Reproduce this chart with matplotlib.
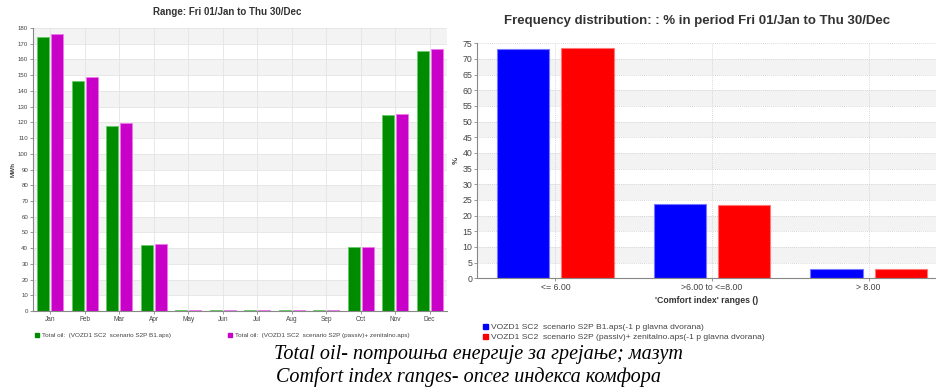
import matplotlib
matplotlib.use("Agg")
import matplotlib.pyplot as plt
from matplotlib.lines import Line2D
import numpy as np

months = ['Jan', 'Feb', 'Mar', 'Apr', 'May', 'Jun', 'Jul', 'Aug', 'Sep', 'Oct', 'Nov', 'Dec']
oil_b1 = [174.0, 146.6, 117.6, 41.7, 0.4, 0.4, 0.4, 0.4, 0.4, 40.4, 124.6, 165.5]
oil_passiv = [176.0, 148.7, 119.5, 42.9, 0.4, 0.4, 0.4, 0.4, 0.4, 41.0, 125.5, 166.8]
oil_labels = ['Total oil:  (VOZD1 SC2  scenario S2P B1.aps)',
              'Total oil:  (VOZD1 SC2  scenario S2P (passiv)+ zenitalno.aps)']

ranges = ['<= 6.00', '>6.00 to <=8.00', '> 8.00']
freq_b1 = [73.2, 23.7, 3.1]
freq_passiv = [73.6, 23.4, 3.0]
freq_labels = ['VOZD1 SC2  scenario S2P B1.aps(-1 p glavna dvorana)',
               'VOZD1 SC2  scenario S2P (passiv)+ zenitalno.aps(-1 p glavna dvorana)']

plt.rcParams['font.family'] = ['Liberation Sans', 'DejaVu Sans']
TXT = '#444444'
W, H = 936, 392
fig = plt.figure(figsize=(W / 100, H / 100), dpi=100)


def px_axes(l, t, r, b):
    return fig.add_axes([l / W, 1 - b / H, (r - l) / W, (b - t) / H])


def style(ax, fs):
    for s in ['top', 'right']:
        ax.spines[s].set_visible(False)
    for s in ['left', 'bottom']:
        ax.spines[s].set_color('#888888')
        ax.spines[s].set_linewidth(0.8)
    ax.tick_params(colors='#888888', labelcolor=TXT, labelsize=fs, length=2, width=0.6, pad=1.5)


# ---------- left chart ----------
axL = px_axes(33, 28, 447, 311)
x = np.arange(len(months))
for lo in range(10, 180, 20):
    axL.axhspan(lo, lo + 10, color='#f3f3f3', zorder=0, lw=0)
for yv in range(10, 181, 10):
    axL.axhline(yv, color='#e4e4e4', lw=0.6, zorder=0.5)
for xv in x:
    axL.axvline(xv, color='#e4e4e4', lw=0.6, zorder=0.5)
axL.bar(x - 0.2, oil_b1, width=0.35, color='#008c00', edgecolor='#66cc66', lw=0.6, zorder=2)
axL.bar(x + 0.2, oil_passiv, width=0.35, color='#c800c8', edgecolor='#ee77ee', lw=0.6, zorder=2)
axL.set_xlim(-0.5, 11.5)
axL.set_ylim(0, 180)
axL.set_yticks(range(0, 181, 10))
axL.set_xticks(x)
axL.set_xticklabels(months)
style(axL, 4.4)
axL.tick_params(axis='x', labelsize=4.7)
axL.set_ylabel('MWh', fontsize=4.6, fontweight='bold', color=TXT, labelpad=1.5)
fig.text(227 / W, 1 - 12 / H, 'Range: Fri 01/Jan to Thu 30/Dec', ha='center', va='center',
         fontsize=7.0, fontweight='bold', color='#333333')

h1 = Line2D([], [], marker='s', color='#008c00', ls='none', markersize=2.8)
h2 = Line2D([], [], marker='s', color='#c800c8', ls='none', markersize=2.8)
leg1 = fig.legend([h1], [oil_labels[0]], loc='center left', bbox_to_anchor=(31 / W, 1 - 335 / H),
                  frameon=False, fontsize=4.6, handlelength=0.8, handletextpad=0.4, borderpad=0)
leg2 = fig.legend([h2], [oil_labels[1]], loc='center left', bbox_to_anchor=(224 / W, 1 - 335 / H),
                  frameon=False, fontsize=4.6, handlelength=0.8, handletextpad=0.4, borderpad=0)
for lg in (leg1, leg2):
    for t in lg.get_texts():
        t.set_color(TXT)

# ---------- right chart ----------
axR = px_axes(477, 43.3, 936, 278.3)
xr = np.arange(len(ranges))
for lo in range(5, 75, 10):
    axR.axhspan(lo, lo + 5, color='#f3f3f3', zorder=0, lw=0)
for yv in range(5, 76, 5):
    axR.axhline(yv, color='#cccccc', lw=0.6, ls=(0, (1, 1.5)), zorder=0.5)
for xv in xr:
    axR.axvline(xv, color='#cccccc', lw=0.6, ls=(0, (1, 1.5)), zorder=0.5)
axR.bar(xr - 0.205, freq_b1, width=0.333, color='#0000ff', edgecolor='#7777ff', lw=0.8, zorder=2)
axR.bar(xr + 0.205, freq_passiv, width=0.333, color='#ff0000', edgecolor='#ff7777', lw=0.8, zorder=2)
axR.set_xlim(-0.5, 2.43)
axR.set_ylim(0, 75)
axR.set_yticks(range(0, 76, 5))
axR.set_xticks(xr)
axR.set_xticklabels(ranges)
style(axR, 6.3)
axR.set_ylabel('%', fontsize=5.8, fontweight='bold', color=TXT, labelpad=2)
axR.set_xlabel("'Comfort index' ranges ()", fontsize=6.3, fontweight='bold', color='#333333', labelpad=3)
fig.text(697 / W, 1 - 21 / H, 'Frequency distribution: : % in period Fri 01/Jan to Thu 30/Dec',
         ha='center', va='center', fontsize=9.5, fontweight='bold', color='#333333')

h3 = Line2D([], [], marker='s', color='#0000ff', ls='none', markersize=3.6)
h4 = Line2D([], [], marker='s', color='#ff0000', ls='none', markersize=3.6)
leg3 = fig.legend([h3, h4], freq_labels, loc='upper left', bbox_to_anchor=(477 / W, 1 - 319 / H),
                  frameon=False, fontsize=6.1, handlelength=0.8, handletextpad=0.4, borderpad=0,
                  labelspacing=0.2)
for t in leg3.get_texts():
    t.set_color(TXT)

# ---------- caption ----------
cap_font = ['Liberation Serif', 'DejaVu Serif']
fig.text(478 / W, 1 - 355 / H, 'Total oil- потрошња енергије за грејање; мазут', ha='center', va='center',
         fontsize=14.5, style='italic', family=cap_font, color='black')
fig.text(468 / W, 1 - 377 / H, 'Comfort index ranges- опсег индекса комфора', ha='center', va='center',
         fontsize=14.5, style='italic', family=cap_font, color='black')

fig.savefig('out.png', dpi=100)
